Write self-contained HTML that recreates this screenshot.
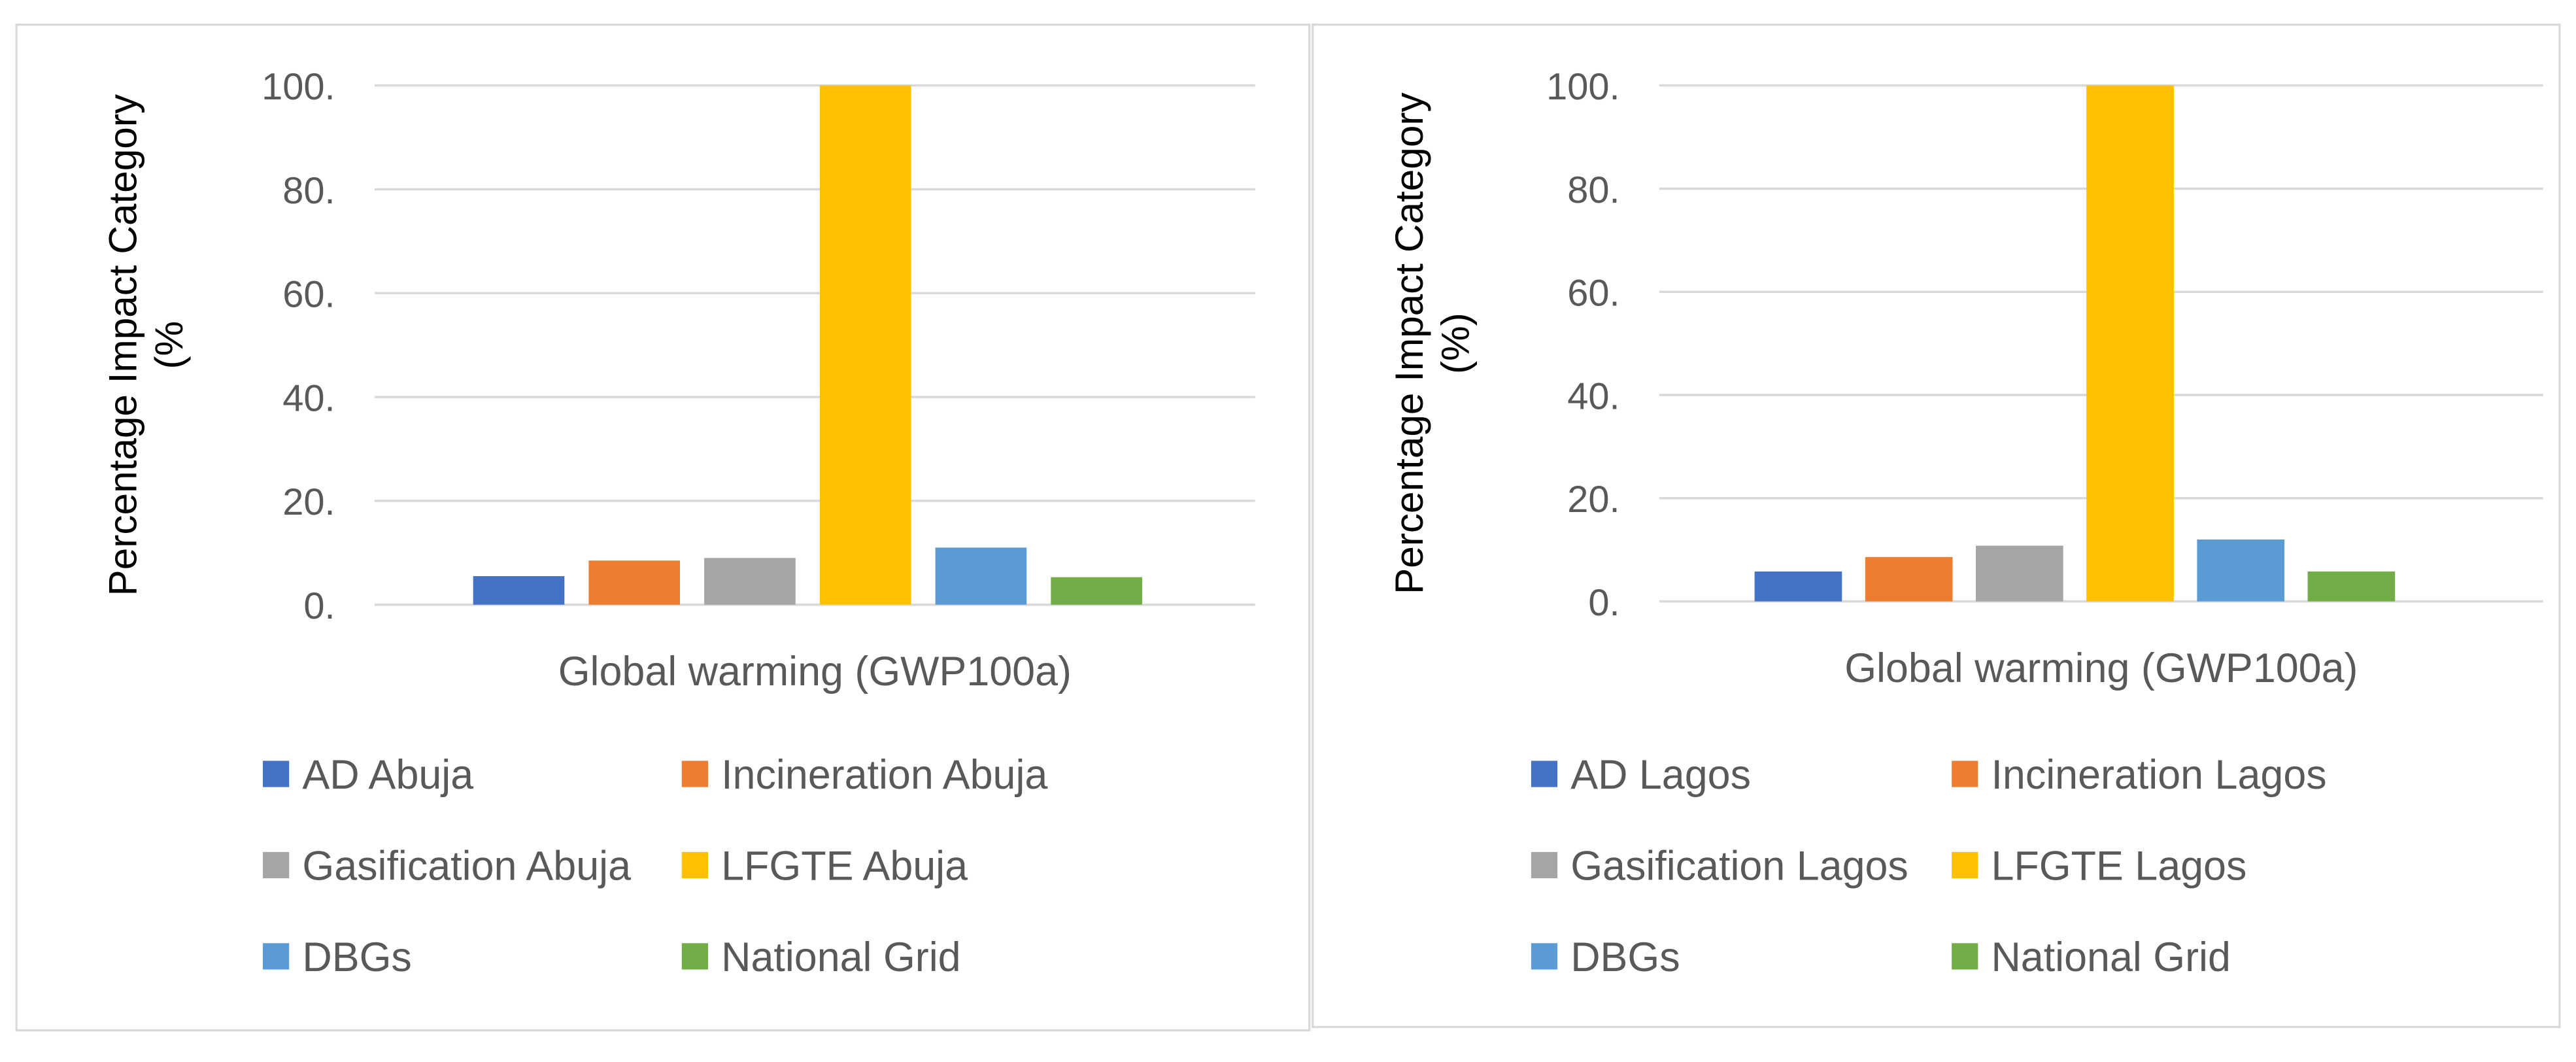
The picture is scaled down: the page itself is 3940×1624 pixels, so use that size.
<!DOCTYPE html>
<html><head><meta charset="utf-8"><style>
html,body{margin:0;padding:0;background:#fff}
svg{display:block}
text{font-family:"Liberation Sans",sans-serif}
</style></head><body>
<svg id="chart" width="3940" height="1624" viewBox="0 0 1568 646.3" xmlns="http://www.w3.org/2000/svg"></svg>
<script>
const ticks = [0, 20, 40, 60, 80, 100];
const tickLabels = ["0.", "20.", "40.", "60.", "80.", "100."];
const category = "Global warming (GWP100a)";
const abujaSeries = ["AD Abuja", "Incineration Abuja", "Gasification Abuja", "LFGTE Abuja", "DBGs", "National Grid"];
const abujaValues = [5.5, 8.5, 9.0, 100, 11.0, 5.3];
const lagosSeries = ["AD Lagos", "Incineration Lagos", "Gasification Lagos", "LFGTE Lagos", "DBGs", "National Grid"];
const lagosValues = [5.8, 8.6, 10.8, 100, 12.0, 5.8];
const colors = ["#4472c4", "#ed7d31", "#a5a5a5", "#ffc000", "#5b9bd5", "#70ad47"];

const NS = "http://www.w3.org/2000/svg";
const svg = document.getElementById("chart");
function mk(tag, attrs, parent) {
  const e = document.createElementNS(NS, tag);
  for (const k in attrs) e.setAttribute(k, attrs[k]);
  (parent || svg).appendChild(e);
  return e;
}

function panel(cfg, series, values, name) {
  const g = mk("g", {});
  
  
  const border = mk("rect", {x: cfg.bx, y: 15, width: cfg.bw, height: cfg.bh, fill: "none", stroke: "#d9d9d9", "stroke-width": 1.3}, g);
  
  
  const y = v => cfg.y0 - (v / 100) * (cfg.y0 - cfg.y100);
  ticks.forEach((t, i) => {
    const ln = mk("line", {x1: cfg.gx1, x2: cfg.gx2, y1: y(t), y2: y(t), stroke: "#d9d9d9", "stroke-width": 1.4}, g);
    
    
    const tx = mk("text", {x: cfg.gx1 - 24, y: y(t) + 8.5, "text-anchor": "end", "font-size": 23, fill: "#595959"}, g);
    tx.textContent = tickLabels[i];
    
    
  });
  const n = values.length;
  const groupW = cfg.bars[1] - cfg.bars[0];
  const step = groupW / n;
  const bw = step * 0.79;
  values.forEach((v, i) => {
    const x = cfg.bars[0] + i * step;
    const r = mk("rect", {x: x, y: y(v), width: bw, height: cfg.y0 - y(v), fill: colors[i]}, g);
    
    
  });
  const xl = mk("text", {x: (cfg.gx1 + cfg.gx2) / 2, y: cfg.y0 + 49, "text-anchor": "middle", "font-size": 25, fill: "#595959"}, g);
  xl.textContent = category;
  
  
  const at = mk("text", {transform: "translate(" + cfg.tx + "," + (cfg.y0 + cfg.y100) / 2 + ") rotate(-90)", "text-anchor": "middle", "font-size": 24, fill: "#000"}, g);
  
  
  const t1 = mk("tspan", {x: 0, y: 0}, at); t1.textContent = "Percentage Impact Category";
  const t2 = mk("tspan", {x: 0, y: 28}, at); t2.textContent = cfg.pct;
  series.forEach((s, i) => {
    const col = i % 2, row = Math.floor(i / 2);
    const lx = cfg.lx[col], ly = 471 + row * 55.5;
    const sw = mk("rect", {x: lx, y: ly - 8, width: 16, height: 16, fill: colors[i]}, g);
    
    
    const lt = mk("text", {x: lx + 24, y: ly + 9, "font-size": 25, fill: "#595959"}, g);
    lt.textContent = s;
    
    
  });
}

panel({bx: 10, bw: 787, bh: 612, gx1: 228, gx2: 764, y0: 368, y100: 52, bars: [288, 710], tx: 83, pct: "(%", lx: [160, 415]}, abujaSeries, abujaValues, "abuja");
panel({bx: 799, bw: 759, bh: 610, gx1: 1010, gx2: 1548, y0: 366, y100: 52, bars: [1068, 1472], tx: 866, pct: "(%)", lx: [932, 1188]}, lagosSeries, lagosValues, "lagos");
</script>
</body></html>
